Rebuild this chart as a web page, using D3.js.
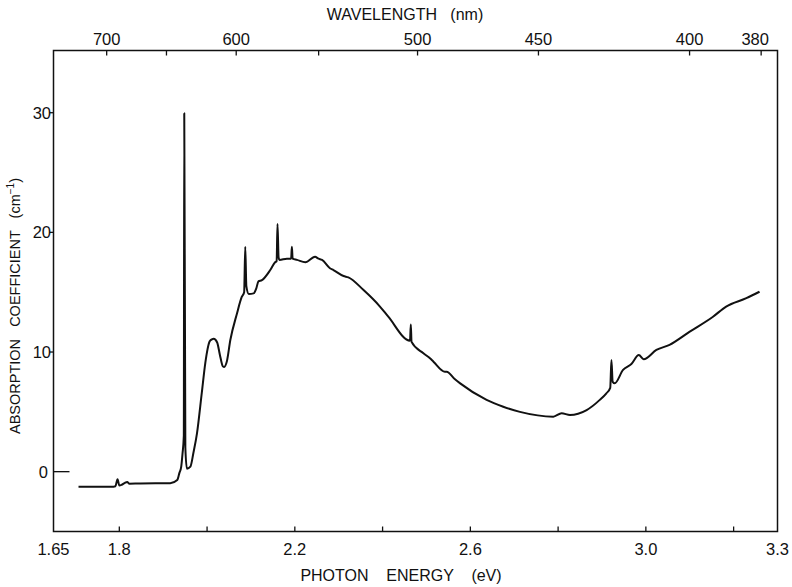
<!DOCTYPE html>
<html>
<head>
<meta charset="utf-8">
<script src="https://cdn.jsdelivr.net/npm/d3@7"></script>
<style>
  body { margin: 0; background: #fff; }
  svg text { font-family: "Liberation Sans", Arial, sans-serif; fill: #111; }
</style>
</head>
<body>
<div id="chart"></div>
<script>
// photon energy (eV) and absorption coefficient (cm^-1)
const energy = [
  1.707, 1.787, 1.791, 1.796, 1.800, 1.805, 1.812, 1.818, 1.823, 1.848, 1.916,
  1.932, 1.937, 1.941, 1.944, 1.947, 1.948, 1.9505, 1.954, 1.962, 1.969, 1.977,
  1.988, 1.996, 2.006, 2.011, 2.015, 2.023, 2.029, 2.036, 2.039, 2.045, 2.053,
  2.068, 2.079, 2.0845, 2.087, 2.0895, 2.095, 2.106, 2.112, 2.117, 2.125, 2.144,
  2.155, 2.1585, 2.1605, 2.163, 2.165, 2.182, 2.1915, 2.1933, 2.195, 2.205,
  2.224, 2.246, 2.254, 2.262, 2.280, 2.288, 2.311, 2.322, 2.356, 2.394, 2.413,
  2.4625, 2.4643, 2.466, 2.493, 2.508, 2.516, 2.542, 2.546, 2.565, 2.576,
  2.637, 2.675, 2.713, 2.789, 2.808, 2.827, 2.865, 2.895, 2.910, 2.9188,
  2.9215, 2.9244, 2.929, 2.948, 2.967, 2.984, 2.995, 3.024, 3.054, 3.100,
  3.153, 3.183, 3.229, 3.259
];
const absorption = [
  -1.25, -1.25, -1.22, -0.63, -1.15, -1.10, -0.95, -0.86, -1.00, -0.98, -0.97,
  -0.70, -0.10, 0.40, 1.5, 3.0, 29.95, 2.0, 0.25, 0.42, 1.6, 3.2,
  6.6, 9.1, 10.9, 11.06, 11.1, 10.8, 9.8, 8.8, 8.75, 9.2, 11.0,
  13.2, 14.6, 15.0, 18.8, 15.5, 14.85, 14.9, 15.3, 15.9, 16.0, 16.85,
  17.5, 17.6, 20.7, 17.9, 17.7, 17.8, 17.8, 18.8, 17.8, 17.7,
  17.5, 17.96, 17.8, 17.7, 17.0, 16.85, 16.35, 16.24, 15.2, 13.8, 12.95,
  10.95, 12.3, 10.85, 9.9, 9.47, 9.19, 8.35, 8.35, 7.72, 7.4,
  6.0, 5.43, 5.0, 4.6, 4.88, 4.74, 5.15, 6.0, 6.55, 7.0,
  9.33, 7.5, 7.38, 8.5, 9.0, 9.75, 9.4, 10.17, 10.6, 11.7,
  12.95, 13.8, 14.5, 15.04
];

const energyTicks = [1.8, 2.0, 2.2, 2.4, 2.6, 2.8, 3.0, 3.2];
const energyLabels = [1.65, 1.8, 2.2, 2.6, 3.0, 3.3];
const wavelengthTicks = [700, 650, 600, 550, 500, 450, 400, 380];
const wavelengthLabels = [700, 600, 500, 450, 400, 380];
const absorptionTicks = [0, 10, 20, 30];

const width = 792, height = 587;
const data = energy.map((e, i) => ({ e: e, a: absorption[i] }));

const svg = d3.select("#chart")
  .append("svg")
    .attr("width", width)
    .attr("height", height);

const xScale = d3.scaleLinear().domain([1.65, 3.3]).range([53.5, 777.5]);
const yScale = d3.scaleLinear().domain([-5, 35.2]).range([531.5, 50.5]);
const toEnergy = nm => 1239.84 / nm;

/*    frame    */
const [x0, x1] = xScale.range();
const [y0, y1] = yScale.range();
svg.append("rect")
  .attr("x", x0).attr("y", y1)
  .attr("width", x1 - x0).attr("height", y0 - y1)
  .attr("fill", "none").attr("stroke", "#111").attr("stroke-width", 1.5);

/*    bottom axis: photon energy    */
svg.selectAll(".tick-e")
  .data(energyTicks)
  .join("line")
    .attr("class", "tick-e")
    .attr("x1", d => xScale(d)).attr("x2", d => xScale(d))
    .attr("y1", y0).attr("y2", y0 - 5)
    .attr("stroke", "#111").attr("stroke-width", 1.3);

svg.selectAll(".label-e")
  .data(energyLabels)
  .join("text")
    .attr("class", "label-e")
    .attr("x", d => xScale(d))
    .attr("y", 555)
    .attr("text-anchor", "middle")
    .attr("font-size", 16.5)
    .text(d => d === 1.65 ? "1.65" : d.toFixed(1));

svg.append("text")
  .attr("x", 401).attr("y", 581)
  .attr("text-anchor", "middle")
  .attr("font-size", 16)
  .style("white-space", "pre")
  .text("PHOTON    ENERGY    (eV)");

/*    top axis: wavelength    */
svg.selectAll(".tick-w")
  .data(wavelengthTicks)
  .join("line")
    .attr("class", "tick-w")
    .attr("x1", d => xScale(toEnergy(d))).attr("x2", d => xScale(toEnergy(d)))
    .attr("y1", y1).attr("y2", y1 + 5)
    .attr("stroke", "#111").attr("stroke-width", 1.3);

svg.selectAll(".label-w")
  .data(wavelengthLabels)
  .join("text")
    .attr("class", "label-w")
    .attr("x", d => xScale(toEnergy(d)) + (d === 380 ? -6 : 0))
    .attr("y", 45)
    .attr("text-anchor", "middle")
    .attr("font-size", 16.5)
    .text(d => d);

svg.append("text")
  .attr("x", 405).attr("y", 20)
  .attr("text-anchor", "middle")
  .attr("font-size", 16)
  .style("white-space", "pre")
  .text("WAVELENGTH   (nm)");

/*    left axis: absorption    */
svg.selectAll(".tick-a")
  .data(absorptionTicks)
  .join("line")
    .attr("class", "tick-a")
    .attr("x1", d => d === 0 ? x0 : x0 - 4)
    .attr("x2", d => d === 0 ? x0 + 16 : x0)
    .attr("y1", d => yScale(d)).attr("y2", d => yScale(d))
    .attr("stroke", "#111").attr("stroke-width", 1.3);

svg.selectAll(".label-a")
  .data(absorptionTicks)
  .join("text")
    .attr("class", "label-a")
    .attr("x", d => d === 0 ? 48 : 51)
    .attr("y", d => yScale(d) + 6)
    .attr("text-anchor", "end")
    .attr("font-size", 16.5)
    .text(d => d);

const yTitle = svg.append("text")
  .attr("transform", "translate(20, 306) rotate(-90)")
  .attr("text-anchor", "middle")
  .attr("font-size", 14.5)
  .style("white-space", "pre");
yTitle.append("tspan").text("ABSORPTION   COEFFICIENT   (cm");
yTitle.append("tspan").attr("dy", -6).attr("font-size", 10).text("\u22121");
yTitle.append("tspan").attr("dy", 6).text(")");

/*    spectrum    */
const line = d3.line()
  .x(d => xScale(d.e))
  .y(d => yScale(d.a))
  .curve(d3.curveMonotoneX);

svg.append("path")
  .datum(data)
  .attr("d", line)
  .attr("fill", "none")
  .attr("stroke", "#111")
  .attr("stroke-width", 2)
  .attr("stroke-linejoin", "round");
</script>
</body>
</html>
